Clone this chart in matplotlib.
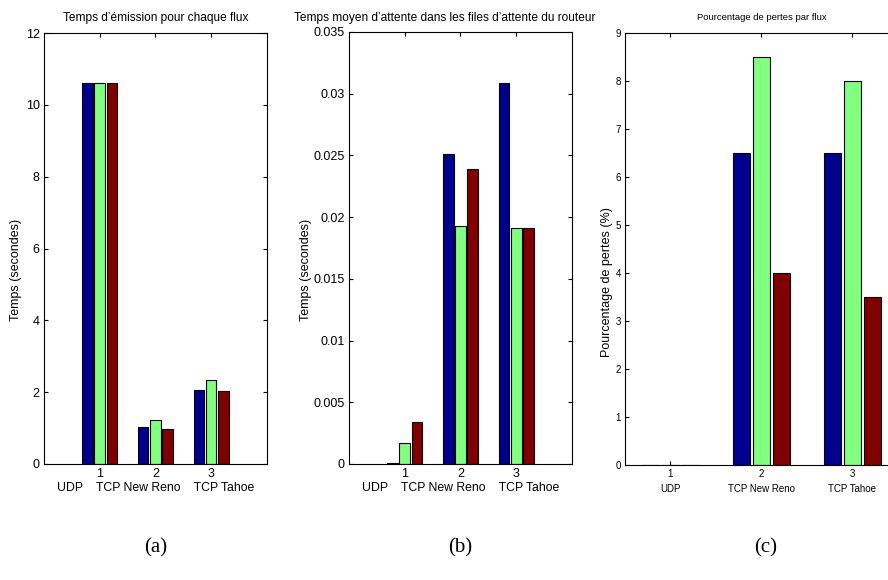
import matplotlib
matplotlib.use('Agg')
import matplotlib.pyplot as plt
from matplotlib.ticker import FuncFormatter
import numpy as np

flows = ['UDP', 'TCP New Reno', 'TCP Tahoe']
groups = [1, 2, 3]

# (a) temps d'emission (s)
emis_s1 = [10.6, 1.04, 2.06]
emis_s2 = [10.6, 1.22, 2.34]
emis_s3 = [10.6, 0.97, 2.02]

# (b) temps moyen d'attente (s)
wait_s1 = [0.0001, 0.0251, 0.0309]
wait_s2 = [0.00173, 0.0193, 0.0191]
wait_s3 = [0.00343, 0.0239, 0.0191]

# (c) pourcentage de pertes
loss_s1 = [0, 6.5, 6.5]
loss_s2 = [0, 8.5, 8.0]
loss_s3 = [0, 4.0, 3.5]

colors = ['#00008F', '#80FF80', '#800000']
plt.rcParams['font.family'] = ['Liberation Sans', 'DejaVu Sans']

fig = plt.figure(figsize=(8.88, 5.8), dpi=100)

def bars(ax, series, width=0.19, step=0.22):
    x = np.array(groups, dtype=float)
    for i, (vals, c) in enumerate(zip(series, colors)):
        ax.bar(x + (i - 1) * step, vals, width, color=c, edgecolor='black',
               linewidth=0.8, zorder=2)

def style(ax, fs):
    for s in ax.spines.values():
        s.set_linewidth(0.8)
    ax.tick_params(direction='in', top=True, right=True, length=3,
                   width=0.8, labelsize=fs, pad=3)

xlab = 'UDP    TCP New Reno    TCP Tahoe'

# (a)
ax1 = fig.add_axes([0.0495, 0.2, 0.2511, 0.743])
bars(ax1, [emis_s1, emis_s2, emis_s3])
ax1.set_xlim(0, 4)
ax1.set_ylim(0, 12)
ax1.set_xticks(groups)
ax1.set_yticks(range(0, 13, 2))
style(ax1, 9)
ax1.set_title("Temps d\u2019\u00e9mission pour chaque flux", fontsize=8.6, pad=9)
ax1.set_ylabel('Temps (secondes)', fontsize=9)
ax1.yaxis.set_label_coords(-0.099, 0.45)
ax1.set_xlabel(xlab, fontsize=8.8, labelpad=1)

# (b)
ax2 = fig.add_axes([0.393, 0.2, 0.2511, 0.745])
bars(ax2, [wait_s1, wait_s2, wait_s3])
ax2.set_xlim(0, 4)
ax2.set_ylim(0, 0.035)
ax2.set_xticks(groups)
ax2.set_yticks(np.arange(0, 0.0351, 0.005))
ax2.yaxis.set_major_formatter(FuncFormatter(lambda v, p: '%g' % round(v, 4)))
style(ax2, 9)
ax2.set_title("Temps moyen d\u2019attente dans les files d\u2019attente du routeur",
              fontsize=8.6, pad=8, x=0.43)
ax2.set_ylabel('Temps (secondes)', fontsize=9)
ax2.yaxis.set_label_coords(-0.166, 0.45)
ax2.set_xlabel(xlab, fontsize=8.8, labelpad=1)

# (c)
ax3 = fig.add_axes([0.7038, 0.1983, 0.3074, 0.745])
bars(ax3, [loss_s1, loss_s2, loss_s3], width=0.18, step=0.22)
ax3.set_xlim(0.5, 3.5)
ax3.set_ylim(0, 9)
ax3.set_xticks(groups)
ax3.set_xticklabels([str(g) + '\n' + f for g, f in zip(groups, flows)],
                    linespacing=1.6)
ax3.set_yticks(range(0, 10))
style(ax3, 7)
ax3.set_title('Pourcentage de pertes par flux', fontsize=6.8, pad=9)
ax3.set_ylabel('Pourcentage de pertes (%)', fontsize=9)
ax3.yaxis.set_label_coords(-0.044, 0.424)

for x, lab in zip([0.175, 0.518, 0.862], ['(a)', '(b)', '(c)']):
    fig.text(x, 0.055, lab, family='Liberation Serif', fontsize=15, ha='center', va='center')

fig.savefig('out.png', dpi=100)
